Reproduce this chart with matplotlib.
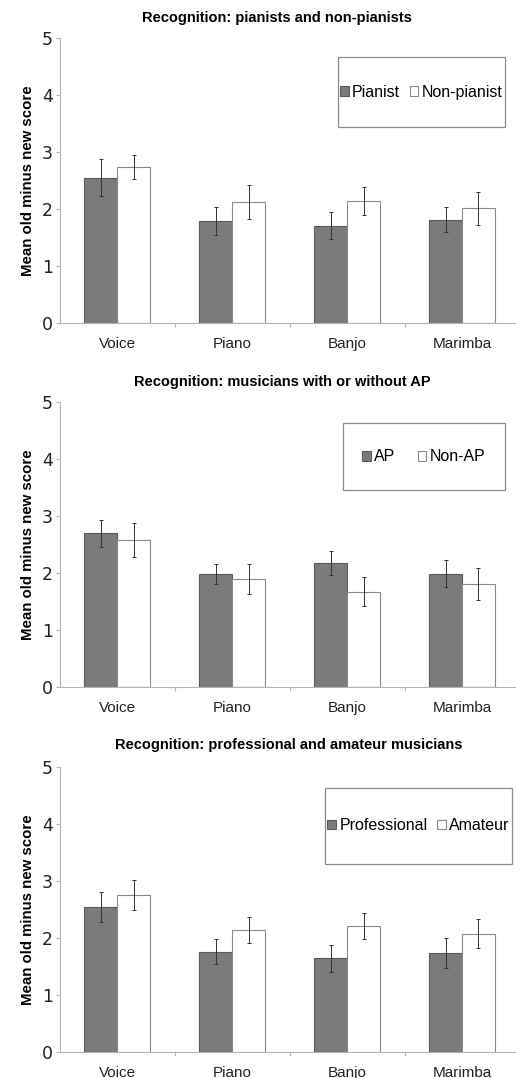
import numpy as np
import matplotlib.pyplot as plt
from matplotlib.patches import Rectangle

# Instrument categories shared by the three panels
instruments = ['Voice', 'Piano', 'Banjo', 'Marimba']

# Recognition: pianists vs non-pianists
pianist = [2.55, 1.79, 1.71, 1.81]
pianist_err = [0.32, 0.24, 0.24, 0.22]
nonpianist = [2.74, 2.12, 2.14, 2.01]
nonpianist_err = [0.21, 0.30, 0.24, 0.29]

# Recognition: musicians with / without absolute pitch
ap = [2.70, 1.99, 2.18, 1.99]
ap_err = [0.23, 0.175, 0.205, 0.235]
nonap = [2.58, 1.90, 1.68, 1.82]
nonap_err = [0.30, 0.27, 0.25, 0.28]

# Recognition: professional vs amateur
professional = [2.54, 1.76, 1.65, 1.745]
professional_err = [0.26, 0.22, 0.235, 0.26]
amateur = [2.75, 2.14, 2.21, 2.08]
amateur_err = [0.265, 0.23, 0.23, 0.255]

panels = [
    ('Recognition: pianists and non-pianists', ['Pianist', 'Non-pianist'],
     pianist, pianist_err, nonpianist, nonpianist_err),
    ('Recognition: musicians with or without AP', ['AP', 'Non-AP'],
     ap, ap_err, nonap, nonap_err),
    ('Recognition: professional and amateur musicians', ['Professional', 'Amateur'],
     professional, professional_err, amateur, amateur_err),
]

# axes boxes in figure fraction (left, bottom, width, height)
boxes = [
    (0.1163, 0.7001, 0.8837, 0.2649),
    (0.1163, 0.3624, 0.8837, 0.2644),
    (0.1163, 0.0238, 0.8837, 0.2649),
]
# legend frame per panel (axes fraction)
legend_boxes = [
    (0.609, 0.686, 0.366, 0.245),
    (0.620, 0.691, 0.355, 0.235),
    (0.581, 0.660, 0.410, 0.267),
]
title_x = [0.537, 0.548, 0.56]
title_y = [0.9833, 0.6457, 0.3089]

DARK = '#7b7b7b'
EDGE = '#5a5a5a'
AXIS = '#b4b4b4'

fig = plt.figure(figsize=(5.16, 10.78), dpi=100)
x = np.arange(len(instruments))
w = 0.287

for i, (title, names, a, a_err, b, b_err) in enumerate(panels):
    ax = fig.add_axes(boxes[i])
    b1 = ax.bar(x - w / 2, a, w, color=DARK, edgecolor=EDGE, linewidth=0.8,
                label=names[0], zorder=2)
    b2 = ax.bar(x + w / 2, b, w, color='white', edgecolor='#8a8a8a', linewidth=0.8,
                label=names[1], zorder=2)
    ax.errorbar(x - w / 2, a, yerr=a_err, fmt='none', ecolor='#333333',
                elinewidth=0.7, capsize=1.3, capthick=0.7, zorder=3)
    ax.errorbar(x + w / 2, b, yerr=b_err, fmt='none', ecolor='#333333',
                elinewidth=0.7, capsize=1.3, capthick=0.7, zorder=3)

    ax.set_xlim(-0.5, 3.47)
    ax.set_ylim(0, 5)
    ax.set_yticks(range(6))
    ax.set_yticklabels([str(v) for v in range(6)], fontsize=12.5,
                       family='DejaVu Sans', color='#222222')
    ax.set_xticks([0.5, 1.5, 2.5])
    ax.set_xticklabels([])
    ax.tick_params(axis='x', direction='out', length=3, color=AXIS, width=0.8)
    ax.tick_params(axis='y', direction='out', length=3, color=AXIS, width=0.8, pad=2)
    for j, name in enumerate(instruments):
        ax.text(j, -0.37, name, ha='center', va='center', fontsize=11,
                family='Liberation Sans', color='#222222')

    for s in ['top', 'right']:
        ax.spines[s].set_visible(False)
    for s in ['left', 'bottom']:
        ax.spines[s].set_color(AXIS)
        ax.spines[s].set_linewidth(0.8)

    ax.set_ylabel('Mean old minus new score', fontsize=10.8, fontweight='bold',
                  family='Liberation Sans', labelpad=5)
    fig.text(title_x[i], title_y[i], title, ha='center', va='center', fontsize=10.5,
             fontweight='bold', family='Liberation Sans')

    lx, ly, lw, lh = legend_boxes[i]
    ax.add_patch(Rectangle((lx, ly), lw, lh, transform=ax.transAxes, fill=False,
                           edgecolor='#8c8c8c', linewidth=0.9, zorder=4))
    ax.legend(handles=[b1, b2], loc='center', bbox_to_anchor=(lx, ly, lw, lh),
              ncol=2, frameon=False, prop={'family': 'Liberation Sans', 'size': 11.5},
              handlelength=0.55, handleheight=0.55, handletextpad=0.2,
              columnspacing=0.6 if i != 1 else 1.4, borderpad=0)

fig.savefig('out.png', dpi=100)
